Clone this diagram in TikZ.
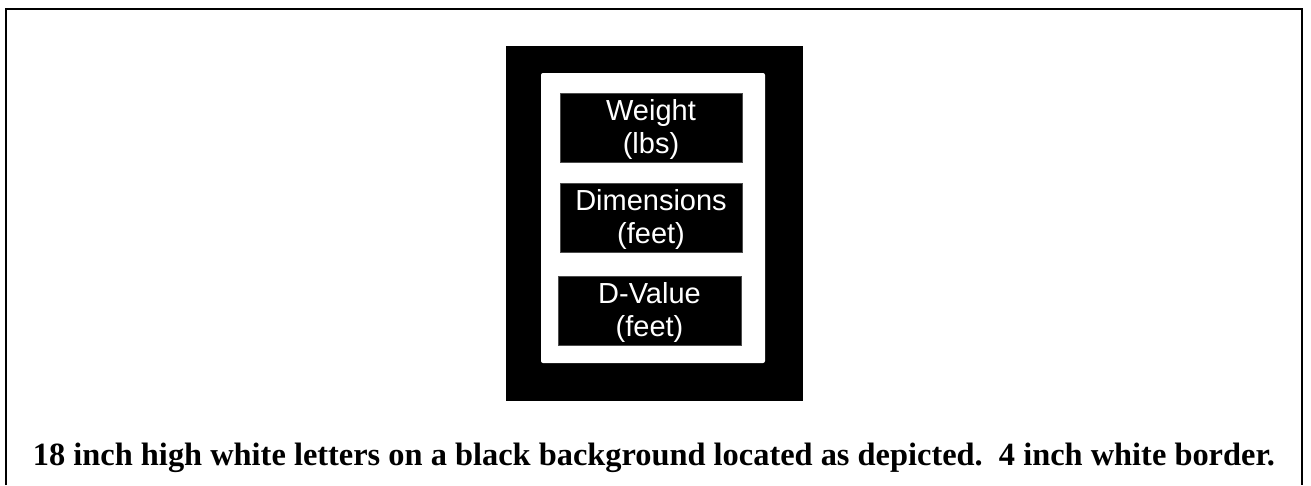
\documentclass[tikz,border=0pt]{standalone}
\usepackage{fontspec}
\setmainfont{Liberation Serif}
\newfontfamily\signfont{Liberation Sans}
\begin{document}
\begin{tikzpicture}[x=1pt,y=-1pt,
  frameline/.style={line width=2pt,draw=black},
  fieldbox/.style={fill=black,draw=black!70,line width=0.6pt},
  fieldtext/.style={text=white,font=\signfont\fontsize{29}{33}\selectfont,align=center,inner sep=0pt},
  caption/.style={font=\bfseries\fontsize{32.4}{36}\selectfont,inner sep=0pt}]
\useasboundingbox (0,0) rectangle (1311,485);
% outer frame, open at the bottom edge
\draw[frameline] (6,485) -- (6,9) -- (1302,9) -- (1302,485);
% sign: black panel with a white border
\fill[black] (506,46) rectangle (803,401);
\fill[white,rounded corners=2pt] (541,73) rectangle (765,363);
% three field plates
\draw[fieldbox] (560,93) rectangle (742,162);
\draw[fieldbox] (560,183) rectangle (742,252);
\draw[fieldbox] (558,276) rectangle (741,345);
\node[fieldtext] (weight) at (651,129) {Weight\\(lbs)};
\node[fieldtext] (dims) at (651,219) {Dimensions\\(feet)};
\node[fieldtext] (dval) at (649.5,312) {D-Value\\(feet)};
% caption
\node[caption,anchor=base] (cap) at (654,465) {18 inch high white letters on a black background located as depicted.\ \ 4 inch white border.};
\end{tikzpicture}
\end{document}
